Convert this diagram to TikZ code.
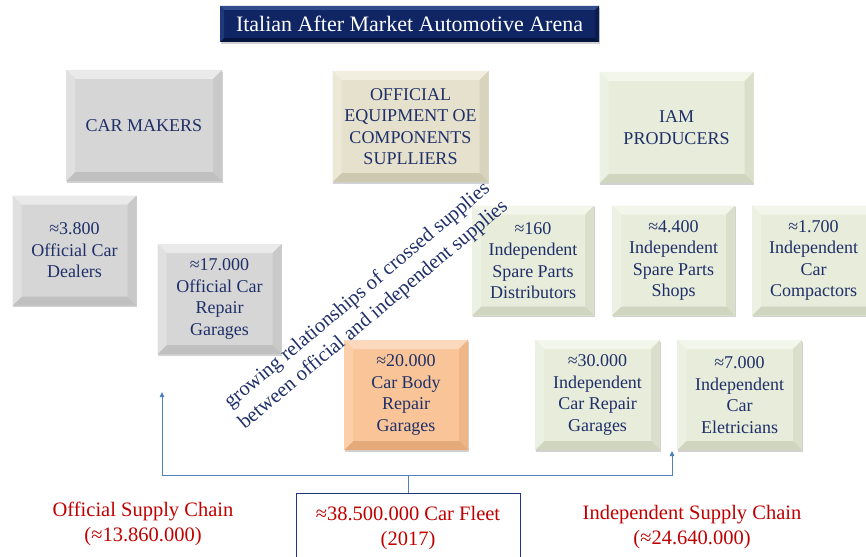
\documentclass[tikz,border=0pt]{standalone}
\usepackage{fontspec}
\setmainfont{Liberation Serif}
\usetikzlibrary{arrows.meta,calc,shadows}
\definecolor{navytxt}{RGB}{31,47,104}
\definecolor{redtxt}{RGB}{192,0,0}
\definecolor{connblue}{RGB}{79,129,189}
\definecolor{fleetblue}{RGB}{31,56,120}
% gray
\definecolor{gB}{RGB}{214,214,214}\definecolor{gT}{RGB}{234,234,234}\definecolor{gL}{RGB}{224,224,224}\definecolor{gR}{RGB}{201,201,201}\definecolor{gD}{RGB}{192,192,192}
% beige
\definecolor{bB}{RGB}{229,225,205}\definecolor{bT}{RGB}{241,238,224}\definecolor{bL}{RGB}{235,232,216}\definecolor{bR}{RGB}{216,211,189}\definecolor{bD}{RGB}{205,200,176}
% green
\definecolor{nB}{RGB}{231,236,219}\definecolor{nT}{RGB}{243,246,235}\definecolor{nL}{RGB}{237,241,227}\definecolor{nR}{RGB}{217,223,202}\definecolor{nD}{RGB}{207,213,191}
% orange
\definecolor{oB}{RGB}{249,197,152}\definecolor{oT}{RGB}{252,217,188}\definecolor{oL}{RGB}{250,207,170}\definecolor{oR}{RGB}{238,182,135}\definecolor{oD}{RGB}{229,170,122}
% title
\definecolor{tB}{RGB}{16,38,100}\definecolor{tT}{RGB}{50,76,142}\definecolor{tL}{RGB}{32,57,122}\definecolor{tR}{RGB}{10,28,80}\definecolor{tD}{RGB}{6,20,64}
\tikzset{
  bevel/.style n args={6}{fill=#1,
    drop shadow={shadow xshift=0.6pt,shadow yshift=-1.8pt,opacity=0.25,fill=black!70},
    path picture={
      \coordinate (pNW) at (path picture bounding box.north west);
      \coordinate (pNE) at (path picture bounding box.north east);
      \coordinate (pSE) at (path picture bounding box.south east);
      \coordinate (pSW) at (path picture bounding box.south west);
      \fill[#2] (pNW) -- (pNE) -- ([shift={(-#6,-#6)}]pNE) -- ([shift={(#6,-#6)}]pNW) -- cycle;
      \fill[#4] (pNE) -- (pSE) -- ([shift={(-#6,#6)}]pSE) -- ([shift={(-#6,-#6)}]pNE) -- cycle;
      \fill[#5] (pSE) -- (pSW) -- ([shift={(#6,#6)}]pSW) -- ([shift={(-#6,#6)}]pSE) -- cycle;
      \fill[#3] (pSW) -- (pNW) -- ([shift={(#6,-#6)}]pNW) -- ([shift={(#6,#6)}]pSW) -- cycle;
    }},
  boxtext/.style={text=navytxt, align=center, inner sep=0pt, outer sep=0pt,
    font=\fontsize{18}{21.5}\selectfont},
  graybox/.style={boxtext, bevel={gB}{gT}{gL}{gR}{gD}{9pt}},
  beigebox/.style={boxtext, bevel={bB}{bT}{bL}{bR}{bD}{9pt}},
  greenbox/.style={boxtext, bevel={nB}{nT}{nL}{nR}{nD}{9pt}},
  orangebox/.style={boxtext, bevel={oB}{oT}{oL}{oR}{oD}{9pt}},
  bigsize/.style={minimum width=156pt, minimum height=111pt},
  smallsize/.style={minimum width=124pt, minimum height=110pt},
  titlebox/.style={bevel={tB}{tT}{tL}{tR}{tD}{4pt}, text=white, inner sep=0pt,
    minimum width=379pt, minimum height=36pt, font=\fontsize{22}{26}\selectfont},
  redlabel/.style={text=redtxt, align=center, inner sep=0pt,
    font=\fontsize{20.5}{25}\selectfont},
  conn/.style={draw=connblue, line width=0.8pt},
  connarrow/.style={conn, -{Triangle[length=5pt,width=4.5pt]}},
  fleetbox/.style={draw=fleetblue, line width=1pt, minimum width=224pt,
    minimum height=80pt, inner sep=0pt},
  slanttext/.style={text=navytxt, align=center, inner sep=0pt, rotate=40,
    font=\fontsize{20.5}{25}\selectfont}
}
\begin{document}
\begin{tikzpicture}[x=1pt,y=-1pt]
\clip (0,0) rectangle (866,556);
\fill[white] (0,0) rectangle (866,556);

% title
\node[titlebox] (title) at (409.5,24) {Italian After Market Automotive Arena};

% top row
\node[graybox, bigsize] (carmakers) at (144,125.5) {CAR MAKERS};
\node[beigebox, bigsize] (oe) at (410.5,126.5) {OFFICIAL\\EQUIPMENT OE\\COMPONENTS\\SUPLLIERS};
\node[greenbox, bigsize, minimum width=154pt] (iam) at (676.5,127.5) {IAM\\PRODUCERS};

% official side
\node[graybox, smallsize] (dealers) at (74.5,250.5) {≈3.800\\Official Car\\Dealers};
\node[graybox, smallsize] (ocr) at (219.5,299) {≈17.000\\Official Car\\Repair\\Garages};
\node[orangebox, smallsize] (body) at (406,395) {≈20.000\\Car Body\\Repair\\Garages};

% independent side
\node[greenbox, smallsize, minimum width=122pt] (dist) at (533,260.5) {≈160\\Independent\\Spare Parts\\Distributors};
\node[greenbox, smallsize, minimum width=123pt] (shops) at (673.5,260.5) {≈4.400\\Independent\\Spare Parts\\Shops};
\node[greenbox, smallsize, minimum width=123pt] (compact) at (813.5,260.5) {≈1.700\\Independent\\Car\\Compactors};
\node[greenbox, smallsize, minimum width=125pt] (icr) at (597.5,395) {≈30.000\\Independent\\Car Repair\\Garages};
\node[greenbox, smallsize, minimum width=125pt] (elec) at (739.5,395) {≈7.000\\Independent\\Car\\Eletricians};

% slanted text
\node[slanttext] (crossed) at (365.5,305.5) {growing relationships of crossed supplies\\between official and independent supplies};

% fleet
\node[fleetbox, anchor=north] (fleet) at (408,493) {};
\node[redlabel, anchor=north] (fleettxt) at ([yshift=-13pt]fleet.north) {≈38.500.000 Car Fleet\\(2017)};

% supply chain labels
\node[redlabel] (offchain) at (143,523.5) {Official Supply Chain\\(≈13.860.000)};
\node[redlabel] (indchain) at (692,527.5) {Independent Supply Chain\\(≈24.640.000)};

% connectors
\coordinate (jct) at (408,475);
\coordinate (offTip) at (162,392);
\coordinate (indTip) at (672,451);
\draw[conn] (fleet.north) -- (jct);
\draw[connarrow] (jct) -| (offTip);
\draw[connarrow] (jct) -| (indTip);
\end{tikzpicture}
\end{document}
